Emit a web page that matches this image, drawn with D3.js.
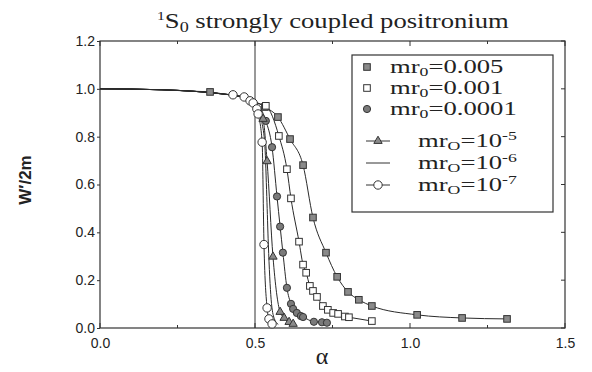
<!DOCTYPE html>
<html>
<head>
<meta charset="utf-8">
<script src="https://cdn.jsdelivr.net/npm/d3@7"></script>
<style>
  body { margin: 0; background: #fff; }
  svg { display: block; }
  .serif { font-family: "Liberation Serif", "Times New Roman", serif; fill: #222; }
  .sans { font-family: "Liberation Sans", Arial, sans-serif; fill: #222; }
</style>
</head>
<body>
<div id="chart"></div>
<script>
// shared flat part of all curves (line only)
const commonAlpha = [0, 0.1, 0.2, 0.3, 0.4, 0.45, 0.5];
const commonW = [1.0, 0.999, 0.996, 0.99, 0.978, 0.968, 0.942];

// mr0 = 0.005 (shaded squares)
const alpha005 = [0.355, 0.532, 0.574, 0.613, 0.655, 0.687, 0.729, 0.765, 0.800, 0.835, 0.877, 1.023, 1.168, 1.313];
const w005 = [0.987, 0.924, 0.882, 0.790, 0.681, 0.462, 0.315, 0.214, 0.151, 0.118, 0.092, 0.055, 0.042, 0.038];

// mr0 = 0.001 (open squares)
const alpha001 = [0.535, 0.577, 0.603, 0.616, 0.642, 0.655, 0.665, 0.677, 0.687, 0.700, 0.719, 0.735, 0.752, 0.768, 0.790, 0.803, 0.877];
const w001 = [0.929, 0.803, 0.664, 0.542, 0.361, 0.265, 0.231, 0.176, 0.155, 0.130, 0.092, 0.076, 0.063, 0.059, 0.048, 0.045, 0.029];

// mr0 = 0.0001 (shaded circles)
const alpha0001 = [0.535, 0.555, 0.571, 0.581, 0.590, 0.603, 0.616, 0.623, 0.635, 0.648, 0.655, 0.690, 0.716, 0.732];
const w0001 = [0.866, 0.756, 0.550, 0.424, 0.315, 0.168, 0.101, 0.080, 0.063, 0.050, 0.046, 0.026, 0.024, 0.022];

// mr0 = 1e-5 (triangles)
const alphaE5 = [0.526, 0.539, 0.558, 0.581, 0.594, 0.610, 0.623];
const wE5 = [0.874, 0.697, 0.298, 0.067, 0.042, 0.025, 0.017];

// mr0 = 1e-6 (line only)
const alphaE6 = [0.512, 0.522, 0.532, 0.538, 0.543, 0.552, 0.562, 0.575];
const wE6 = [0.905, 0.860, 0.760, 0.550, 0.350, 0.120, 0.040, 0.015];

// mr0 = 1e-7 (open circles)
const alphaE7 = [0.429, 0.465, 0.484, 0.494, 0.506, 0.510, 0.523, 0.529, 0.539, 0.545, 0.555];
const wE7 = [0.975, 0.966, 0.950, 0.941, 0.916, 0.895, 0.777, 0.349, 0.084, 0.038, 0.017];

const criticalAlpha = 0.5;

const xTicks = [0, 0.5, 1.0, 1.5];
const yTicks = [0, 0.2, 0.4, 0.6, 0.8, 1.0, 1.2];

const series = [
  { label: '0.005', exp: null, alpha: alpha005, w: w005, marker: 'shadedSquare', join: 0.5 },
  { label: '0.001', exp: null, alpha: alpha001, w: w001, marker: 'openSquare', join: 0.51 },
  { label: '0.0001', exp: null, alpha: alpha0001, w: w0001, marker: 'shadedCircle', join: 0.51 },
  { label: '10', exp: '-5', alpha: alphaE5, w: wE5, marker: 'triangle', join: 0.51 },
  { label: '10', exp: '-6', alpha: alphaE6, w: wE6, marker: null, join: 0.51 },
  { label: '10', exp: '-7', alpha: alphaE7, w: wE7, marker: 'openCircle', join: 0.42 },
];

const W = 592, H = 372;
const margin = { top: 41, right: 27, bottom: 44, left: 100 };
const width = W - margin.left - margin.right;
const height = H - margin.top - margin.bottom;

const svg = d3.select('#chart').append('svg')
  .attr('width', W)
  .attr('height', H);

const x = d3.scaleLinear().domain([0, 1.5]).range([0, width]);
const y = d3.scaleLinear().domain([0, 1.2]).range([height, 0]);

const g = svg.append('g')
  .attr('transform', `translate(${margin.left},${margin.top})`);

// frame
g.append('rect')
  .attr('width', width)
  .attr('height', height)
  .attr('fill', 'none')
  .attr('stroke', '#333')
  .attr('stroke-width', 1.2);

// axes
const xAxis = d3.axisBottom(x).tickValues(xTicks).tickFormat(d3.format('.1f')).tickSize(0).tickPadding(10);
const yAxis = d3.axisLeft(y).tickValues(yTicks).tickFormat(d3.format('.1f')).tickSize(3).tickPadding(2);

const gx = g.append('g').attr('transform', `translate(0,${height})`).call(xAxis);
const gy = g.append('g').call(yAxis);
[gx, gy].forEach((a) => {
  a.select('.domain').remove();
  a.selectAll('.tick line').attr('stroke', '#333');
  a.selectAll('.tick text')
    .attr('class', 'sans')
    .attr('font-size', 14)
    .attr('fill', '#222');
});

// inward ticks on bottom/top/right
const minorX = d3.range(0, 1.5001, 0.25);
g.append('g').selectAll('line.bt').data(minorX).join('line')
  .attr('x1', (d) => x(d)).attr('x2', (d) => x(d))
  .attr('y1', height).attr('y2', (d) => height - (d % 0.5 === 0 ? 5 : 3))
  .attr('stroke', '#333');
g.append('g').selectAll('line.tt').data(minorX).join('line')
  .attr('x1', (d) => x(d)).attr('x2', (d) => x(d))
  .attr('y1', 0).attr('y2', (d) => (d % 0.5 === 0 ? 5 : 3))
  .attr('stroke', '#333');
g.append('g').selectAll('line.rt').data(yTicks).join('line')
  .attr('x1', width).attr('x2', width - 4)
  .attr('y1', (d) => y(d)).attr('y2', (d) => y(d))
  .attr('stroke', '#333');

// critical alpha line
g.append('line')
  .attr('x1', x(criticalAlpha)).attr('x2', x(criticalAlpha))
  .attr('y1', y(0)).attr('y2', y(1.2))
  .attr('stroke', '#333')
  .attr('stroke-width', 1);

// curves
const line = d3.line()
  .x((d) => x(d[0]))
  .y((d) => y(d[1]))
  .curve(d3.curveMonotoneX);

const curves = g.append('g').attr('class', 'curves');
series.forEach((s) => {
  const pts = commonAlpha.map((a, i) => [a, commonW[i]]).filter((p) => p[0] < s.join);
  const own = s.alpha.map((a, i) => [a, s.w[i]]);
  const all = pts.concat(own).sort((a, b) => a[0] - b[0]);
  curves.append('path')
    .datum(all)
    .attr('d', line)
    .attr('fill', 'none')
    .attr('stroke', '#2a2a2a')
    .attr('stroke-width', 1);
});

function drawMarker(sel, type, cx, cy) {
  if (type === 'shadedSquare') {
    sel.append('rect').attr('x', cx - 3.3).attr('y', cy - 3.3).attr('width', 6.6).attr('height', 6.6)
      .attr('fill', '#8a8a8a').attr('stroke', '#333').attr('stroke-width', 1);
  } else if (type === 'openSquare') {
    sel.append('rect').attr('x', cx - 3.3).attr('y', cy - 3.3).attr('width', 6.6).attr('height', 6.6)
      .attr('fill', '#fff').attr('stroke', '#333').attr('stroke-width', 1);
  } else if (type === 'shadedCircle') {
    sel.append('circle').attr('cx', cx).attr('cy', cy).attr('r', 3.6)
      .attr('fill', '#7a7a7a').attr('stroke', '#333').attr('stroke-width', 1);
  } else if (type === 'triangle') {
    sel.append('path').attr('d', d3.symbol(d3.symbolTriangle, 30)()).attr('transform', `translate(${cx},${cy})`)
      .attr('fill', '#8a8a8a').attr('stroke', '#333').attr('stroke-width', 1);
  } else if (type === 'openCircle') {
    sel.append('circle').attr('cx', cx).attr('cy', cy).attr('r', 4.2)
      .attr('fill', '#fff').attr('stroke', '#333').attr('stroke-width', 1);
  }
}

const marks = g.append('g').attr('class', 'marks');
series.forEach((s) => {
  if (!s.marker) return;
  s.alpha.forEach((a, i) => drawMarker(marks, s.marker, x(a), y(s.w[i])));
});

// legend
const legend = svg.append('g').attr('class', 'legend');
legend.append('rect')
  .attr('x', 352).attr('y', 55).attr('width', 201).attr('height', 157)
  .attr('fill', '#fff').attr('stroke', '#333').attr('stroke-width', 1.2);

const legendRows = [67, 88, 109, 141, 163, 185];
series.forEach((s, i) => {
  const cy = legendRows[i];
  const row = legend.append('g');
  if (s.exp) {
    row.append('line').attr('x1', 366).attr('x2', 390).attr('y1', cy).attr('y2', cy)
      .attr('stroke', '#333').attr('stroke-width', 1);
    drawMarker(row, s.marker, 378, cy);
  } else {
    drawMarker(row, s.marker, 367, cy);
  }
  // the scanned lettering is wide, so stretch it horizontally
  const t = row.append('text')
    .attr('class', 'serif')
    .attr('transform', `translate(${s.exp ? 418 : 390},${cy + 6}) scale(1.48,1)`)
    .attr('font-size', 18);
  t.append('tspan').text('mr');
  t.append('tspan').attr('font-size', 12).attr('dy', 3).text(s.exp ? 'O' : '0');
  t.append('tspan').attr('dy', -3).text(`=${s.label}`);
  if (s.exp) t.append('tspan').attr('font-size', 12).attr('dy', -7).text(s.exp);
});

// title
const title = svg.append('text')
  .attr('class', 'serif')
  .attr('transform', 'translate(157,28) scale(1.21,1)')
  .attr('font-size', 22);
title.append('tspan').attr('font-size', 13).attr('dy', -8).text('1');
title.append('tspan').attr('dy', 8).text('S');
title.append('tspan').attr('font-size', 15).attr('dy', 4).text('0');
title.append('tspan').attr('dy', -4).text(' strongly coupled positronium');

// axis labels
svg.append('text')
  .attr('class', 'sans')
  .attr('transform', 'translate(31,180) rotate(-90)')
  .attr('text-anchor', 'middle')
  .attr('font-size', 17)
  .attr('font-weight', 'bold')
  .text('W\u2032/2m');

svg.append('text')
  .attr('class', 'serif')
  .attr('x', 322)
  .attr('y', 364)
  .attr('text-anchor', 'middle')
  .attr('font-size', 24)
  .text('\u03b1');
</script>
</body>
</html>
